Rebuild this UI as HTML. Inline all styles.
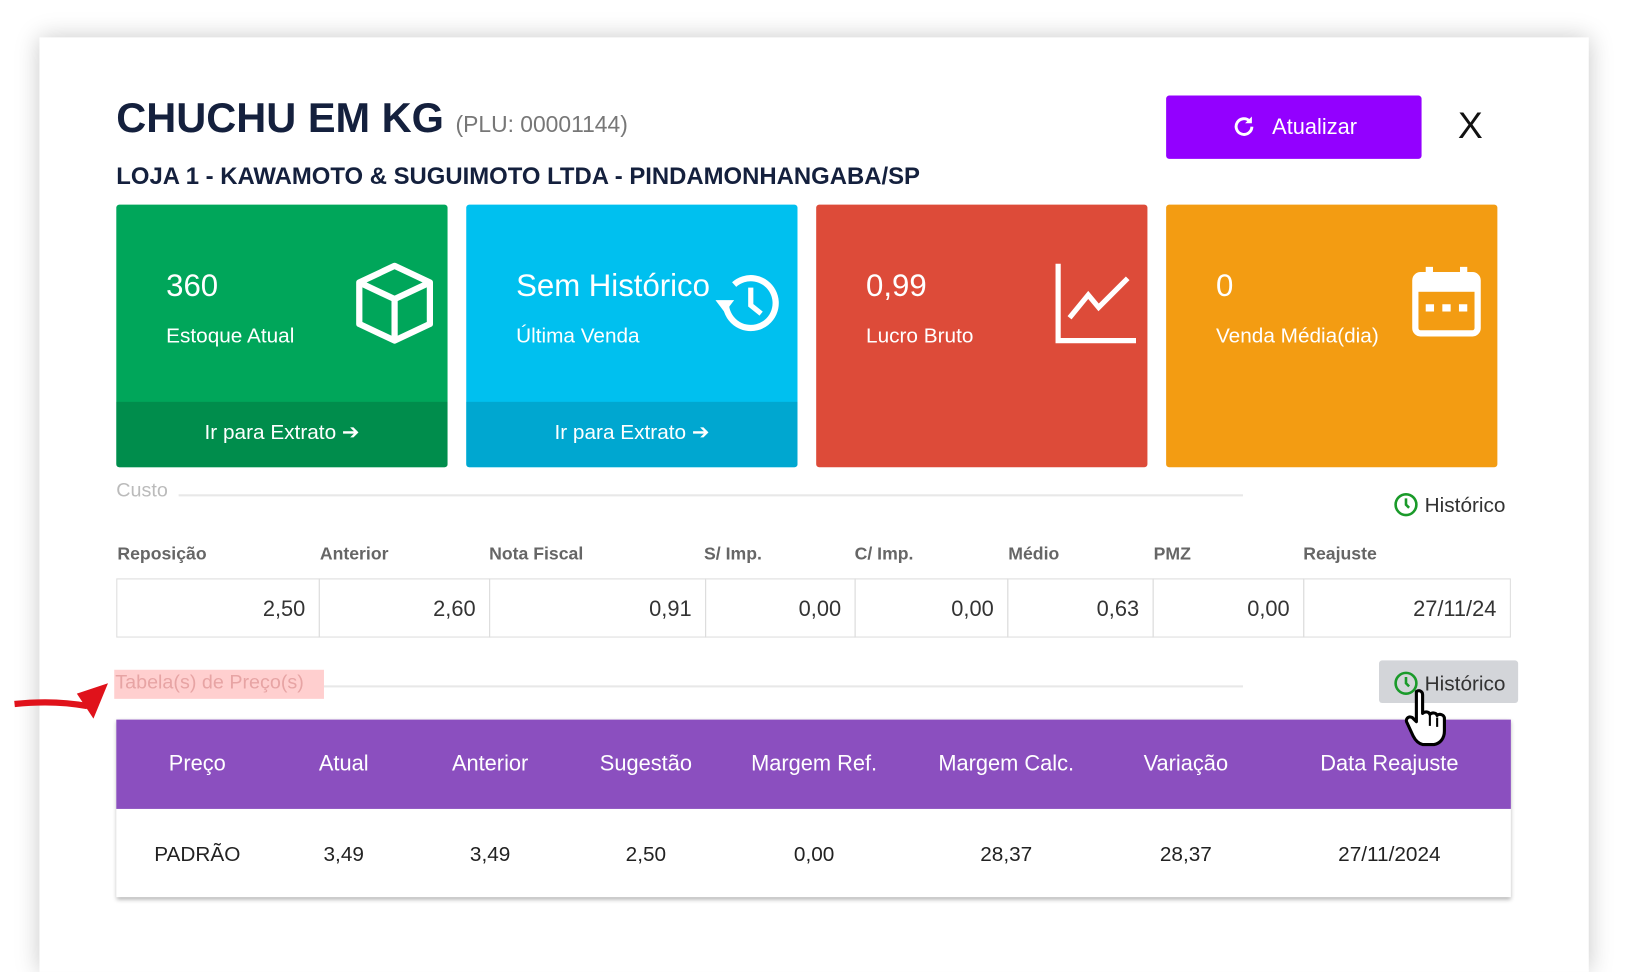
<!DOCTYPE html>
<html><head><meta charset="utf-8"><style>
html,body{margin:0;padding:0;background:#fff;overflow:hidden;width:1628px;height:916px}
#w{position:absolute;left:0;top:0;width:1570px;height:884px;transform:scale(1.0384);transform-origin:0 0;font-family:"Liberation Sans",sans-serif}
.a{position:absolute}
.dlg{left:38px;top:36px;width:1492px;height:900px;background:#fff;box-shadow:0 0 22px rgba(0,0,0,.22)}
.card{top:197px;width:319px;height:253px;border-radius:3px;color:#fff;overflow:hidden}
.num{left:48px;top:62px;font-size:30px}
.lbl{left:48px;top:116px;font-size:20px}
.ft{left:0;bottom:0;width:100%;height:63px;text-align:center;line-height:60px;font-size:20px}
.hl{top:524px;font-size:17px;color:#666;font-weight:bold}
.cell{top:557px;height:57px;border:1px solid #ddd;box-sizing:border-box;text-align:right;padding-right:13px;line-height:58px;font-size:21px;color:#333}
.th{top:693px;height:86px;line-height:86px;color:#fff;font-size:21px;text-align:center}
.td{top:780px;height:84px;line-height:86px;color:#222;font-size:20px;text-align:center}
</style></head><body><div id="w">
<div class="a dlg"></div>
<div class="a" style="left:112px;top:92px;font-size:40px;font-weight:bold;color:#14203d">CHUCHU EM KG <span style="font-size:22px;font-weight:normal;color:#777">(PLU: 00001144)</span></div>
<div class="a" style="left:112px;top:156px;font-size:23px;font-weight:bold;color:#14203d">LOJA 1 - KAWAMOTO &amp; SUGUIMOTO LTDA - PINDAMONHANGABA/SP</div>
<div class="a" style="left:1123px;top:92px;width:246px;height:61px;background:#9300ff;border-radius:3px;color:#fff;font-size:21px;line-height:61px;text-align:center">
<svg width="26" height="26" viewBox="0 0 24 24" style="vertical-align:-6px;margin-right:14px"><path d="M19 12a7 7 0 1 1-2-5" fill="none" stroke="#fff" stroke-width="2.6"/><path d="M19 3v6h-6z" fill="#fff"/></svg>Atualizar</div>
<div class="a" style="left:1404px;top:100px;font-size:36px;color:#111">X</div>

<div class="a card" style="left:112px;background:#00a65a"><div class="a num">360</div><div class="a lbl">Estoque Atual</div>
<svg class="a" style="left:228px;top:55px" width="80" height="80" viewBox="0 0 80 80"><path d="M40 4L74 20V60L40 76L6 60V20Z M6 20L40 36L74 20 M40 36V76" fill="none" stroke="#fff" stroke-width="6" stroke-linejoin="round"/></svg>
<div class="a ft" style="background:#008d4c">Ir para Extrato ➔</div></div>
<div class="a card" style="left:449px;background:#00c0ef"><div class="a num">Sem Histórico</div><div class="a lbl">Última Venda</div>
<svg class="a" style="left:238px;top:62px" width="66" height="66" viewBox="0 0 66 66"><path d="M12 33a24 24 0 1 0 8-18" fill="none" stroke="#fff" stroke-width="6"/><path d="M2 30h18l-9 12z" fill="#fff"/><path d="M36 18v17l10 8" fill="none" stroke="#fff" stroke-width="5"/></svg>
<div class="a ft" style="background:#00a7d0">Ir para Extrato ➔</div></div>
<div class="a card" style="left:786px;background:#dd4b39"><div class="a num">0,99</div><div class="a lbl">Lucro Bruto</div>
<svg class="a" style="left:228px;top:55px" width="80" height="80" viewBox="0 0 80 80"><path d="M5 2V76H80" fill="none" stroke="#fff" stroke-width="5"/><path d="M16 54L34 32L44 44L72 16" fill="none" stroke="#fff" stroke-width="5"/></svg></div>
<div class="a card" style="left:1123px;background:#f39c12"><div class="a num">0</div><div class="a lbl">Venda Média(dia)</div>
<svg class="a" style="left:236px;top:58px" width="68" height="70" viewBox="0 0 68 70"><rect x="4" y="10" width="60" height="56" rx="5" fill="none" stroke="#fff" stroke-width="6"/><rect x="4" y="10" width="60" height="16" fill="#fff"/><rect x="14" y="2" width="7" height="14" fill="#fff"/><rect x="47" y="2" width="7" height="14" fill="#fff"/><rect x="14" y="38" width="8" height="7" fill="#fff"/><rect x="30" y="38" width="8" height="7" fill="#fff"/><rect x="46" y="38" width="8" height="7" fill="#fff"/></svg></div>

<div class="a" style="left:112px;top:462px;font-size:19px;color:#bbb">Custo</div>
<div class="a" style="left:172px;top:476px;width:1025px;height:2px;background:#e8e8e8"></div>
<div class="a" style="left:1342px;top:474px;font-size:20px;color:#333"><svg width="24" height="24" viewBox="0 0 24 24" style="vertical-align:-5px;margin-right:6px"><circle cx="12" cy="12" r="10" fill="none" stroke="#1a9a2a" stroke-width="2.5"/><path d="M12 6v6l3 3" fill="none" stroke="#1a9a2a" stroke-width="2.5"/></svg>Histórico</div>

<div class="a hl" style="left:113px">Reposição</div><div class="a hl" style="left:308px">Anterior</div><div class="a hl" style="left:471px">Nota Fiscal</div><div class="a hl" style="left:678px">S/ Imp.</div><div class="a hl" style="left:823px">C/ Imp.</div><div class="a hl" style="left:971px">Médio</div><div class="a hl" style="left:1111px">PMZ</div><div class="a hl" style="left:1255px">Reajuste</div>
<div class="a cell" style="left:112px;width:196px">2,50</div><div class="a cell" style="left:307px;width:165px">2,60</div><div class="a cell" style="left:471px;width:209px">0,91</div><div class="a cell" style="left:679px;width:145px">0,00</div><div class="a cell" style="left:823px;width:148px">0,00</div><div class="a cell" style="left:970px;width:141px">0,63</div><div class="a cell" style="left:1110px;width:146px">0,00</div><div class="a cell" style="left:1255px;width:200px">27/11/24</div>

<div class="a" style="left:110px;top:645px;width:202px;height:28px;background:#ffcfcf"></div>
<div class="a" style="left:111px;top:647px;font-size:19px;color:#e7a4a4">Tabela(s) de Preço(s)</div>
<div class="a" style="left:312px;top:660px;width:885px;height:2px;background:#e8e8e8"></div>
<svg class="a" style="left:12px;top:652px" width="96" height="42" viewBox="0 0 96 42"><path d="M2 26Q40 22 72 28" fill="none" stroke="#e0121b" stroke-width="6"/><path d="M92 6L62 16L78 40Z" fill="#e0121b"/></svg>
<div class="a" style="left:1328px;top:636px;width:134px;height:41px;background:#d3d5d9;border-radius:3px"></div>
<div class="a" style="left:1342px;top:646px;font-size:20px;color:#333"><svg width="24" height="24" viewBox="0 0 24 24" style="vertical-align:-5px;margin-right:6px"><circle cx="12" cy="12" r="10" fill="none" stroke="#1a9a2a" stroke-width="2.5"/><path d="M12 6v6l3 3" fill="none" stroke="#1a9a2a" stroke-width="2.5"/></svg>Histórico</div>

<div class="a" style="left:112px;top:693px;width:1343px;height:171px;box-shadow:0 2px 4px rgba(0,0,0,.3);background:#fff"></div>
<div class="a" style="left:112px;top:693px;width:1343px;height:86px;background:#8b4fbf"></div>
<div class="a th" style="left:130px;width:120px">Preço</div><div class="a th" style="left:271px;width:120px">Atual</div><div class="a th" style="left:412px;width:120px">Anterior</div><div class="a th" style="left:552px;width:140px">Sugestão</div><div class="a th" style="left:704px;width:160px">Margem Ref.</div><div class="a th" style="left:879px;width:180px">Margem Calc.</div><div class="a th" style="left:1072px;width:140px">Variação</div><div class="a th" style="left:1248px;width:180px">Data Reajuste</div>
<div class="a td" style="left:130px;width:120px">PADRÃO</div><div class="a td" style="left:271px;width:120px">3,49</div><div class="a td" style="left:412px;width:120px">3,49</div><div class="a td" style="left:552px;width:140px">2,50</div><div class="a td" style="left:704px;width:160px">0,00</div><div class="a td" style="left:879px;width:180px">28,37</div><div class="a td" style="left:1072px;width:140px">28,37</div><div class="a td" style="left:1248px;width:180px">27/11/2024</div>

<svg class="a" style="left:1352px;top:662px" width="50" height="58" viewBox="0 0 50 58"><path d="M12 4c3-2 6 0 6 3v18c2-2 6-2 7 1 2-2 6-2 7 1 2-2 7-1 7 3v12c0 7-4 12-10 13H18c-4-1-7-4-9-8L3 34c-2-3 1-7 5-5l4 4V7z" fill="#fff" stroke="#000" stroke-width="3" stroke-linejoin="round"/><path d="M25 27v10M32 29v9" stroke="#000" stroke-width="2"/></svg>
</div></body></html>
